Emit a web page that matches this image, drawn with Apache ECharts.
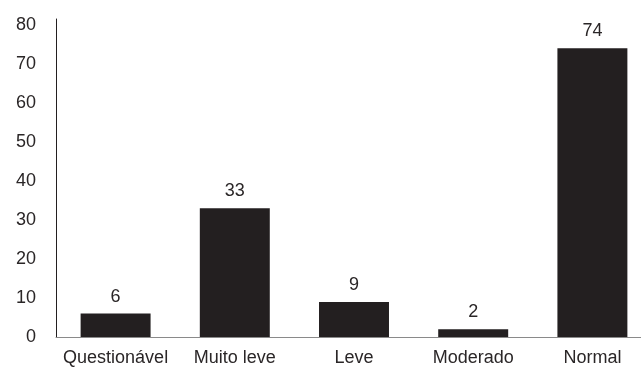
<!DOCTYPE html>
<html>
<head>
<meta charset="utf-8">
<script src="https://cdn.jsdelivr.net/npm/echarts@6/dist/echarts.min.js"></script>
<style>
  html, body { margin: 0; padding: 0; background: #fff; overflow: hidden; }
  #chart { width: 652px; height: 371px; }
</style>
</head>
<body>
<div id="chart"></div>
<script>
// Categories and counts per classification
const categories = ['Questionável', 'Muito leve', 'Leve', 'Moderado', 'Normal'];
const counts = [6, 33, 9, 2, 74];
const yTicks = [0, 10, 20, 30, 40, 50, 60, 70, 80];

const textColor = '#2a2627';
const fontFamily = 'Liberation Sans, Arial, sans-serif';

const chart = echarts.init(document.getElementById('chart'));
chart.setOption({
  animation: false,
  grid: { left: 56, right: 0, top: 19, bottom: 34 },
  xAxis: {
    type: 'category',
    data: categories,
    axisLine: { show: true, lineStyle: { color: '#8a8a8a', width: 1 } },
    axisTick: { show: false },
    axisLabel: { color: textColor, fontSize: 18, fontFamily, margin: 12, interval: 0 }
  },
  yAxis: {
    type: 'value',
    min: 0,
    max: 81.5,
    interval: 10,
    splitLine: { show: false },
    axisLine: { show: true, lineStyle: { color: '#231f20', width: 1 } },
    axisTick: { show: false },
    axisLabel: {
      color: textColor, fontSize: 18, fontFamily, margin: 20,
      formatter: v => (yTicks.includes(v) ? String(v) : '')
    }
  },
  series: [{
    type: 'bar',
    data: counts,
    barWidth: '58.7%',
    itemStyle: { color: '#231f20' },
    label: {
      show: true, position: 'top', distance: 8,
      color: textColor, fontSize: 18, fontFamily
    }
  }]
});
</script>
</body>
</html>
